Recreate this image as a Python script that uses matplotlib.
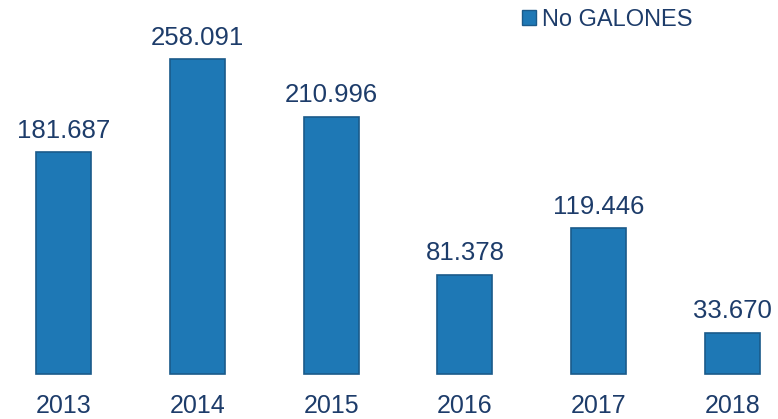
import matplotlib.pyplot as plt
from matplotlib.patches import Patch

years = ['2013', '2014', '2015', '2016', '2017', '2018']
galones = [181.687, 258.091, 210.996, 81.378, 119.446, 33.670]
labels = ['181.687', '258.091', '210.996', '81.378', '119.446', '33.670']

navy = '#1d3c6a'
bar_color = '#1e78b5'

plt.rcParams['font.family'] = ['Liberation Sans', 'DejaVu Sans']

fig = plt.figure(figsize=(7.78, 4.19), dpi=100)
ax = fig.add_axes([0, 0, 1, 1])

x = range(len(years))
bars = ax.bar(x, galones, width=0.41, color=bar_color, edgecolor='#1a5a8a',
              linewidth=1.2, label='No GALONES')

for xi, v, lab in zip(x, galones, labels):
    ax.text(xi, v + 12, lab, ha='center', va='baseline', fontsize=18.5, color=navy)
    ax.text(xi, -16, years[xi], ha='center', va='top', fontsize=18, color=navy)

ax.set_xlim(-0.4746, 5.34)
ax.set_ylim(-36.9, 306.6)
ax.axis('off')

handle = Patch(facecolor=bar_color, edgecolor='#1a5a8a')
ax.legend([handle], ['No GALONES'], loc='upper left', bbox_to_anchor=(0.643, 1.03),
          frameon=False, fontsize=17, labelcolor=navy, handlelength=0.6,
          handleheight=0.6, handletextpad=0.25)

fig.savefig('out.png', dpi=100)
